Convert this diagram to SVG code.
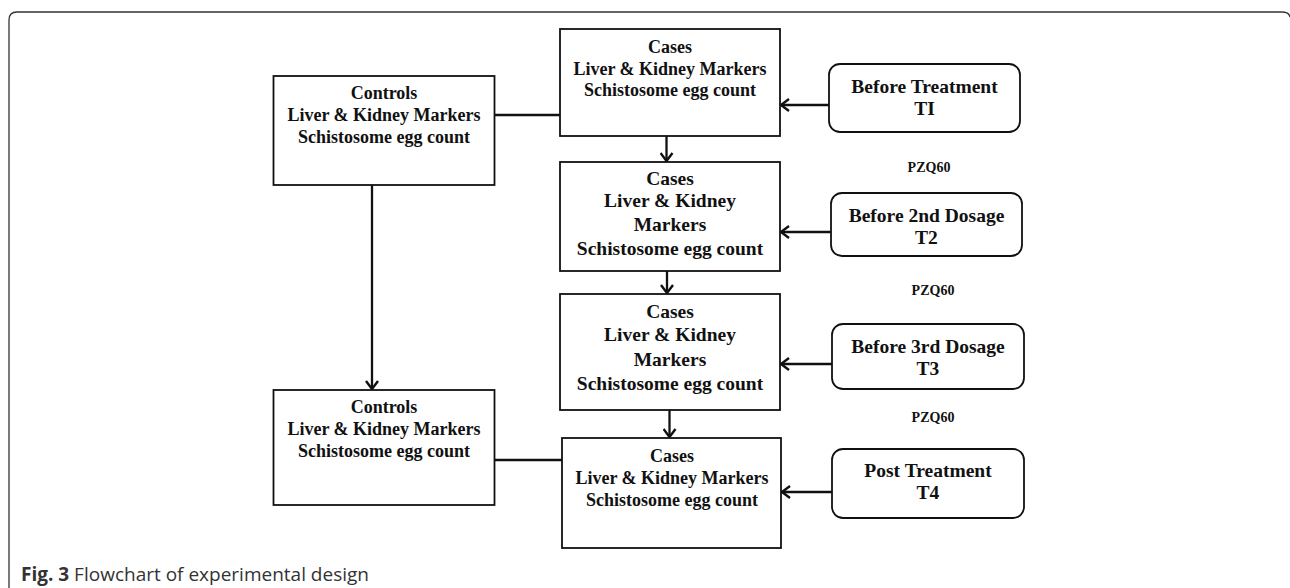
<svg xmlns="http://www.w3.org/2000/svg" width="1290" height="588" viewBox="0 0 1290 588">
<style>
.box{fill:#fff;stroke:#111;stroke-width:1.8}
.t{font-family:"Liberation Serif","Times New Roman",serif;font-weight:bold;fill:#111;text-anchor:middle}
.s18{font-size:18px}
.s19{font-size:19.5px}
.s20{font-size:19.5px}
.pzq{font-size:14px}
.c{stroke:#111;stroke-width:2.3;fill:none}
.cap{font-family:"Open Sans","Noto Sans",sans-serif;font-size:19px;fill:#333}
</style>
<defs>
<marker id="ah" viewBox="0 0 14 14" refX="11" refY="7" markerWidth="14" markerHeight="14" markerUnits="userSpaceOnUse" orient="auto">
<path d="M3,1 L11,7 L3,13" fill="none" stroke="#111" stroke-width="2.4"/>
</marker>
</defs>
<rect width="1290" height="588" fill="#fff"/>
<path d="M9,590 L9,20 Q9,12 17,12 L1282,12 Q1289,12 1290,17" fill="none" stroke="#333" stroke-width="1.3"/>

<g id="connectors">
<line class="c" x1="495" y1="115" x2="560" y2="115"/>
<line class="c" x1="495" y1="460" x2="562" y2="460"/>
<line class="c" x1="372" y1="185" x2="372" y2="389" marker-end="url(#ah)"/>
<line class="c" x1="666.5" y1="136" x2="666.5" y2="161" marker-end="url(#ah)"/>
<line class="c" x1="667" y1="271" x2="667" y2="293" marker-end="url(#ah)"/>
<line class="c" x1="669.5" y1="410" x2="669.5" y2="437" marker-end="url(#ah)"/>
<line class="c" x1="829" y1="105" x2="781" y2="105" marker-end="url(#ah)"/>
<line class="c" x1="831" y1="232" x2="781" y2="232" marker-end="url(#ah)"/>
<line class="c" x1="832" y1="364" x2="781" y2="364" marker-end="url(#ah)"/>
<line class="c" x1="832" y1="492" x2="782" y2="492" marker-end="url(#ah)"/>
</g>

<g id="controls1">
<rect class="box" x="273.5" y="76" width="221" height="109"/>
<text class="t s18" x="384" y="99">Controls</text>
<text class="t s18" x="384" y="121">Liver &amp; Kidney Markers</text>
<text class="t s18" x="384" y="143">Schistosome egg count</text>
</g>

<g id="controls2">
<rect class="box" x="273.5" y="390" width="221" height="115"/>
<text class="t s18" x="384" y="413">Controls</text>
<text class="t s18" x="384" y="435">Liver &amp; Kidney Markers</text>
<text class="t s18" x="384" y="457">Schistosome egg count</text>
</g>

<g id="cases1">
<rect class="box" x="560" y="29" width="220" height="107"/>
<text class="t s18" x="670" y="53">Cases</text>
<text class="t s18" x="670" y="75">Liver &amp; Kidney Markers</text>
<text class="t s18" x="670" y="96">Schistosome egg count</text>
</g>

<g id="cases2">
<rect class="box" x="560" y="162" width="220" height="109"/>
<text class="t s19" x="670" y="185">Cases</text>
<text class="t s19" x="670" y="207">Liver &amp; Kidney</text>
<text class="t s19" x="670" y="231">Markers</text>
<text class="t s19" x="670" y="255">Schistosome egg count</text>
</g>

<g id="cases3">
<rect class="box" x="560" y="294" width="220" height="116"/>
<text class="t s19" x="670" y="318">Cases</text>
<text class="t s19" x="670" y="341">Liver &amp; Kidney</text>
<text class="t s19" x="670" y="366">Markers</text>
<text class="t s19" x="670" y="390">Schistosome egg count</text>
</g>

<g id="cases4">
<rect class="box" x="562" y="438" width="219" height="110"/>
<text class="t s18" x="672" y="462">Cases</text>
<text class="t s18" x="672" y="484">Liver &amp; Kidney Markers</text>
<text class="t s18" x="672" y="506">Schistosome egg count</text>
</g>

<g id="before-treatment">
<rect class="box" x="829" y="64" width="191" height="68" rx="11"/>
<text class="t s20" x="924.5" y="93">Before Treatment</text>
<text class="t s20" x="924.5" y="115">TI</text>
</g>

<g id="before-2nd">
<rect class="box" x="831" y="193" width="191" height="63" rx="11"/>
<text class="t s20" x="926.5" y="222">Before 2nd Dosage</text>
<text class="t s20" x="926.5" y="244">T2</text>
</g>

<g id="before-3rd">
<rect class="box" x="832" y="324" width="192" height="65" rx="11"/>
<text class="t s20" x="928" y="353">Before 3rd Dosage</text>
<text class="t s20" x="928" y="375">T3</text>
</g>

<g id="post-treatment">
<rect class="box" x="832" y="449" width="192" height="69" rx="11"/>
<text class="t s20" x="928" y="477">Post Treatment</text>
<text class="t s20" x="928" y="499">T4</text>
</g>

<g id="labels">
<text class="t pzq" x="929" y="172">PZQ60</text>
<text class="t pzq" x="933" y="295">PZQ60</text>
<text class="t pzq" x="933" y="422">PZQ60</text>
</g>

<text class="cap" x="21" y="581"><tspan font-weight="bold">Fig. 3</tspan> Flowchart of experimental design</text>
</svg>
